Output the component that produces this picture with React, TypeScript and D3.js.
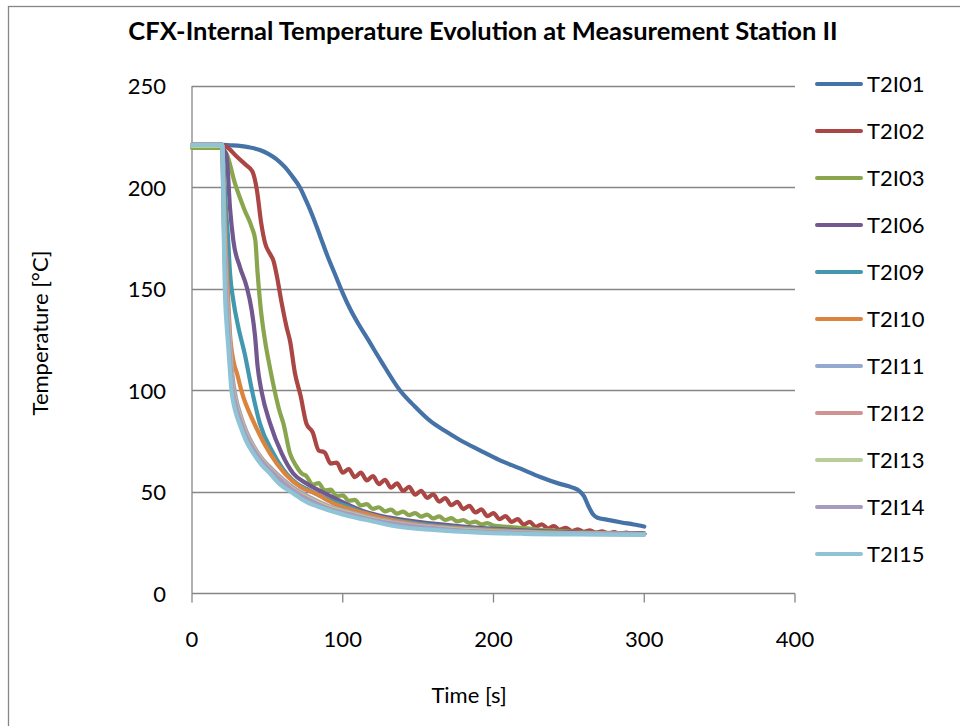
import { useEffect, useRef } from "react";
import * as d3 from "d3";

// time [s] vs temperature [°C]
const T2I01: [number, number][] = [
  [0, 221], [20, 221], [25, 220.8], [37.3, 219.9], [45, 218.5], [50.6, 216.6], [56, 214], [61.7, 210], [66, 206],
  [71.6, 200], [76, 193], [80, 186], [85, 176], [90, 166], [95, 157], [100, 148], [105, 140], [111, 132],
  [116, 126], [125, 115], [138, 100], [148, 92], [158, 85], [168, 80], [178, 75.5], [191, 70.5],
  [204, 65.7], [218, 61.5], [231, 57.4], [244, 54], [252, 52.3], [257, 50.5], [260, 48], [263, 43], [266, 39],
  [269, 37.3], [275, 36.4], [285, 35], [293, 34], [300, 33],
];

const T2I02: [number, number][] = [
  [0, 221], [20, 221], [23, 220], [30, 215], [36, 211], [40, 208], [43, 199], [46, 182], [48.5, 172.5], [52, 167],
  [54, 164], [56, 157.5], [59.5, 143], [62.8, 131], [65, 124.5], [68.3, 108.5],
  [72, 97.5], [76, 83.5], [80, 79.5], [84, 70.5], [88, 69.5], [92, 64], [96, 64.5], [100, 59.5], [104, 61.3],
  [108, 57.3], [112, 59.5], [116, 55.7], [120, 57.8], [124, 53.9], [128, 56], [132, 52.1], [136, 54.3], [140, 50.5],
  [144, 52.5], [148, 48.7], [152, 50.6], [156, 47.1], [160, 48.8], [164, 45.3], [168, 47], [172, 43.5], [176, 45.1],
  [180, 41.6], [184, 43.2], [188, 39.9], [192, 41.4], [196, 38.1], [200, 39.6], [204, 36.6], [208, 38.1], [212, 35.3],
  [216, 36.6], [220, 34], [224, 35.3], [228, 32.9], [232, 34.1], [236, 32.1], [240, 33.2], [244, 31.4], [248, 32.4],
  [252, 30.8], [256, 31.6], [260, 30.4], [264, 31.1], [268, 29.9], [272, 30.6], [276, 29.6], [280, 30.2], [284, 29.5],
  [288, 30], [292, 29.3], [296, 29.7], [300, 29.5],
];

const T2I03: [number, number][] = [
  [0, 219.5], [20, 219.5], [21, 218.5], [23, 216.5], [28.5, 202], [35, 188.7], [39.6, 180.5], [42, 174], [43.5, 158],
  [45.5, 141], [48.4, 124.7], [51.5, 112], [55, 99.3], [58, 90], [60.6, 83.8], [65, 69], [69, 63], [72.8, 59.1],
  [76, 57.8], [80, 53.6], [84, 54.4], [88, 50.8], [92, 51.2], [96, 48], [100, 48.3], [104, 45.7], [108, 46.1],
  [112, 43.4], [116, 44], [120, 41.7], [124, 42.5], [128, 40.5], [132, 41.3], [136, 39.3], [140, 40.3], [144, 38.6],
  [148, 39.6], [152, 37.9], [156, 38.9], [160, 37], [164, 38], [168, 36.2], [172, 37.1], [176, 35.5], [180, 36.2],
  [184, 34.8], [188, 35.4], [192, 34.1], [196, 34.7], [200, 33.4], [210, 32.8], [220, 32.2], [235, 31.2], [250, 30.5],
  [265, 30], [280, 29.8], [300, 29.5],
];

const T2I06: [number, number][] = [
  [0, 221], [20, 221], [21, 219], [23, 215], [25.2, 190], [27.4, 174], [31.8, 160.8], [36.3, 151], [39.6, 139.5],
  [41.8, 127], [43.5, 112], [46.2, 99.3], [51.8, 83.8], [59.5, 69], [67.2, 59.1], [76, 54.2], [88.2, 49.3],
  [100, 45], [114.8, 40.3], [130, 37.5], [150, 35.3], [180, 33], [210, 31.5], [250, 30.2], [300, 29.5],
];

const T2I09: [number, number][] = [
  [0, 221], [20, 221], [21, 210], [22.5, 190], [24, 174], [25.2, 158], [27.4, 144.4], [30.7, 131.3], [35, 118],
  [40, 99.3], [45, 83.8], [54, 69], [62.8, 59], [70, 54], [77.2, 51], [90, 46.5], [103.7, 42.7], [114.8, 39.6],
  [130, 36.8], [150, 34.5], [180, 32.3], [210, 31], [250, 29.9], [300, 29.3],
];

const T2I10: [number, number][] = [
  [0, 221], [20, 221], [21, 200], [22.5, 170], [24, 145], [25.2, 128], [27.4, 115], [30, 108], [33, 99.3],
  [41.3, 83.8], [51.7, 69], [61.7, 59], [72, 52.5], [81.6, 49.3], [95, 44], [114.8, 39.5], [130, 36.5], [150, 34],
  [180, 32], [210, 30.8], [250, 29.8], [300, 29.3],
];

const T2I11: [number, number][] = [
  [0, 221], [20, 221], [21, 195], [22, 170], [23, 150], [24.5, 133], [26.5, 110], [29, 97], [32, 88.5], [36, 80],
  [41, 72.5], [47, 66], [53, 61.3], [60, 56.5], [68, 51.8], [78, 47.5], [90, 43.3], [105, 40], [120, 37.2],
  [140, 34.6], [170, 32.2], [200, 30.8], [250, 29.7], [300, 29.3],
];

const T2I12: [number, number][] = [
  [0, 221], [20, 221], [21, 190], [22, 165], [23, 147], [24.5, 130], [26.5, 107], [29, 95.5], [32, 87.5], [36, 79],
  [41, 72], [47, 65.5], [53, 60.8], [60, 56], [68, 51.3], [78, 47], [90, 42.9], [105, 39.7], [120, 36.9],
  [140, 34.3], [170, 32], [200, 30.6], [250, 29.6], [300, 29.2],
];

const T2I13: [number, number][] = [
  [0, 220.5], [20, 220.5], [21, 186], [22, 161], [23, 144], [24.5, 128], [26.5, 105], [29, 94.5], [32, 86.7],
  [36, 78.4], [41, 71.5], [47, 65], [53, 60.3], [60, 55.5], [68, 50.8], [78, 46.6], [90, 42.6], [105, 39.4],
  [120, 36.6], [140, 34.1], [170, 31.8], [200, 30.5], [250, 29.5], [300, 29.2],
];

const T2I14: [number, number][] = [
  [0, 221], [20, 221], [21, 183], [22, 158], [23, 141], [24.5, 125], [26.5, 103], [29, 93], [32, 85.5], [36, 77.5],
  [41, 70.8], [47, 64.5], [53, 59.8], [60, 55], [68, 50.3], [78, 46], [90, 42], [105, 39], [120, 36.2], [140, 33.8],
  [170, 31.5], [200, 30.3], [250, 29.4], [300, 29.1],
];

const T2I15: [number, number][] = [
  [0, 221], [20, 221], [20.5, 210], [21, 180], [21.5, 160], [22, 145], [23, 132], [24, 122], [26.3, 99.3],
  [28.5, 90.5], [31.8, 83], [36, 75], [40.7, 69], [46, 63.5], [51.7, 59.1], [58, 54], [67.2, 49.3], [75, 45.5],
  [83.8, 42.7], [95, 40], [103.7, 38.2], [120, 35.5], [136, 33], [160, 31.3], [190, 30], [220, 29.4], [260, 29.1],
  [300, 28.9],
];

const SERIES_NAMES = ["T2I01", "T2I02", "T2I03", "T2I06", "T2I09", "T2I10", "T2I11", "T2I12", "T2I13", "T2I14", "T2I15"];
const SERIES_DATA = [T2I01, T2I02, T2I03, T2I06, T2I09, T2I10, T2I11, T2I12, T2I13, T2I14, T2I15];
const COLORS = [
  "#4572A7", "#AA4643", "#89A54E", "#71588F", "#4198AF", "#DB843D",
  "#93A9CF", "#D19392", "#B9CD96", "#A99BBD", "#8FC3D6",
];
const X_TICKS = [0, 100, 200, 300, 400];
const Y_TICKS = [0, 50, 100, 150, 200, 250];

const FONT = "Lato, 'Open Sans', sans-serif";
const W = 960, H = 726;

export default function App() {
  const ref = useRef<SVGSVGElement>(null);
  useEffect(() => {
    const el = ref.current;
    if (!el) return;
    const svg = d3.select(el);
    svg.selectAll("*").remove();

    const x = d3.scaleLinear().domain([0, 400]).range([192, 795]);
    const y = d3.scaleLinear().domain([0, 250]).range([593.5, 86]);
    const grey = "#868686";

    svg.append("rect").attr("width", W).attr("height", H).attr("fill", "#fff");
    // chart area border (runs off the right / bottom edge)
    svg.append("rect").attr("x", 8.5).attr("y", 6.5).attr("width", 1000).attr("height", 1000)
      .attr("fill", "none").attr("stroke", grey).attr("stroke-width", 1.3);

    svg.append("text").attr("x", 483).attr("y", 40).attr("text-anchor", "middle")
      .attr("font-family", FONT).attr("font-weight", "bold").attr("font-size", 25.5).attr("fill", "#000")
      .text("CFX-Internal Temperature Evolution at Measurement Station II");

    // gridlines + y labels
    Y_TICKS.forEach((t) => {
      const yy = Math.round(y(t)) + 0.5;
      if (t > 0) {
        svg.append("line").attr("x1", x(0)).attr("x2", x(400)).attr("y1", yy).attr("y2", yy)
          .attr("stroke", grey).attr("stroke-width", 1.3);
      }
      svg.append("text").attr("x", 166).attr("y", y(t) + 8).attr("text-anchor", "end")
        .attr("font-family", FONT).attr("font-size", 22).attr("fill", "#000").text(t);
    });

    // axes
    svg.append("line").attr("x1", x(0)).attr("x2", x(0)).attr("y1", y(250)).attr("y2", y(0))
      .attr("stroke", grey).attr("stroke-width", 1.3);
    svg.append("line").attr("x1", x(0)).attr("x2", x(400)).attr("y1", y(0)).attr("y2", y(0))
      .attr("stroke", grey).attr("stroke-width", 1.3);
    X_TICKS.forEach((t) => {
      svg.append("line").attr("x1", x(t)).attr("x2", x(t)).attr("y1", y(0)).attr("y2", y(0) + 9)
        .attr("stroke", grey).attr("stroke-width", 1.3);
      svg.append("text").attr("x", x(t)).attr("y", 647).attr("text-anchor", "middle")
        .attr("font-family", FONT).attr("font-size", 22).attr("fill", "#000").text(t);
    });

    svg.append("text").attr("x", 469).attr("y", 703).attr("text-anchor", "middle")
      .attr("font-family", FONT).attr("font-size", 22).attr("fill", "#000").text("Time [s]");
    svg.append("text").attr("transform", `translate(48,333) rotate(-90)`).attr("text-anchor", "middle")
      .attr("font-family", FONT).attr("font-size", 22).attr("fill", "#000").text("Temperature [°C]");

    const line = d3.line<[number, number]>().x((d) => x(d[0])).y((d) => y(d[1])).curve(d3.curveMonotoneX);
    SERIES_DATA.forEach((data, i) => {
      svg.append("path").attr("d", line(data)).attr("fill", "none").attr("stroke", COLORS[i])
        .attr("stroke-width", 4.2).attr("stroke-linejoin", "round").attr("stroke-linecap", "round");
    });

    // legend
    SERIES_NAMES.forEach((name, i) => {
      const ly = 84 + i * 47;
      svg.append("line").attr("x1", 817).attr("x2", 861).attr("y1", ly).attr("y2", ly)
        .attr("stroke", COLORS[i]).attr("stroke-width", 4).attr("stroke-linecap", "round");
      svg.append("text").attr("x", 867).attr("y", ly + 8).attr("font-family", FONT).attr("font-size", 22)
        .attr("fill", "#000").text(name);
    });
  }, []);
  return <svg ref={ref} width={W} height={H} style={{ position: "absolute", left: 0, top: 0 }} />;
}
